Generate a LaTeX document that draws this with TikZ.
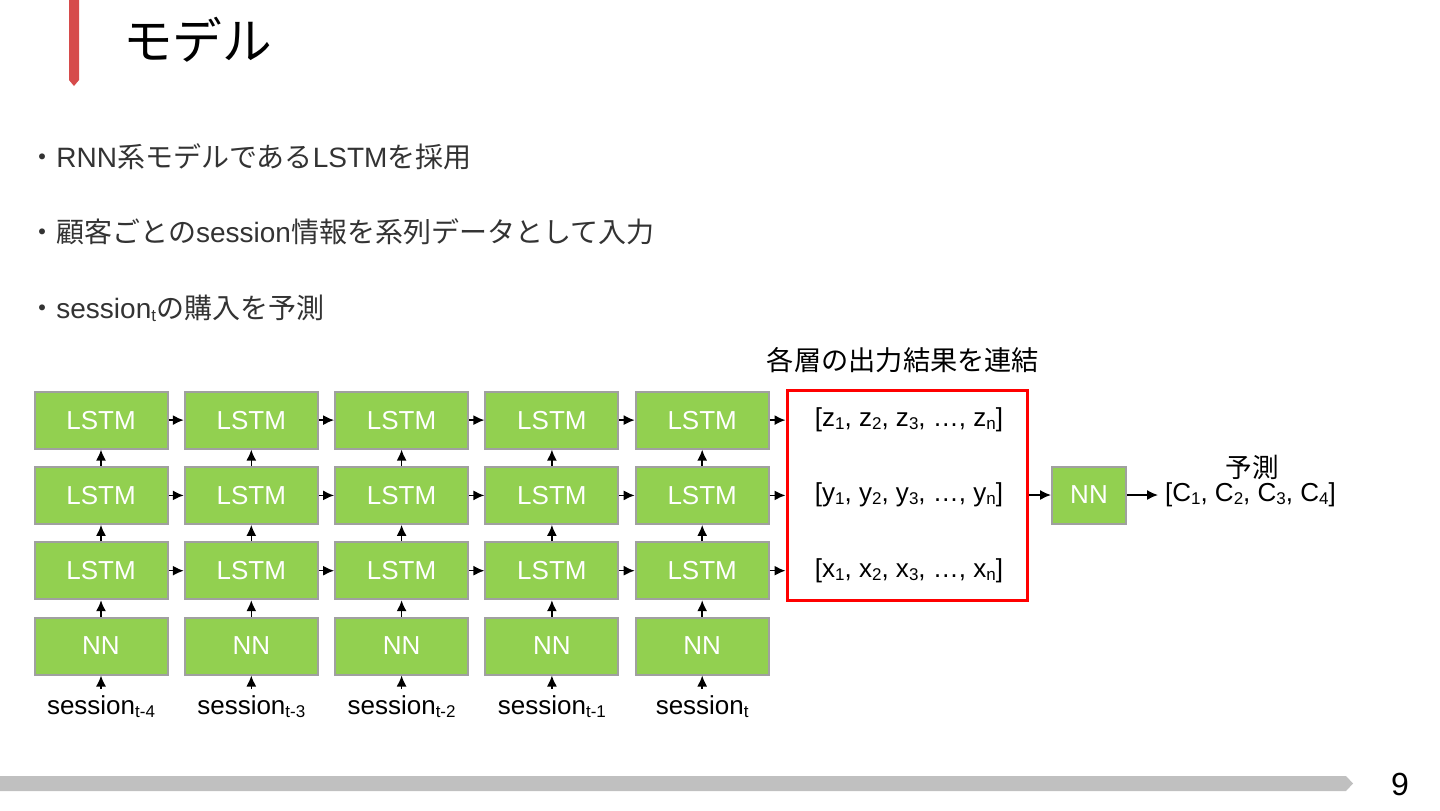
\documentclass[tikz,border=0pt]{standalone}
\usepackage{fontspec}
\setmainfont{Liberation Sans}
\newfontfamily\jp[Scale=1.08]{Noto Sans CJK JP}
\newfontfamily\jpb{Noto Sans CJK JP}
\usetikzlibrary{arrows.meta,positioning}
\definecolor{CellGreen}{HTML}{92D050}
\definecolor{CellEdge}{HTML}{A0A0A0}
\definecolor{BarRed}{HTML}{D64B4B}
\definecolor{BarGray}{HTML}{C0C0C0}
\definecolor{BodyGray}{HTML}{333333}
\newcommand{\lo}[1]{\raisebox{-0.2ex}{\fontsize{8.5}{9}\selectfont #1}}

\begin{document}
\begin{tikzpicture}[x=0.5pt,y=-0.5pt,
    cell/.style={draw=CellEdge,line width=1pt,fill=CellGreen,
      minimum width=66.5pt,minimum height=28.5pt,inner sep=0pt,
      text=white,font=\fontsize{13}{15}\selectfont},
    arrow/.style={-{Latex[length=5.5pt,width=5pt]},line width=0.75pt},
    vec/.style={font=\fontsize{13}{15}\selectfont},
    bullet/.style={anchor=west,inner sep=0pt,text=BodyGray,
      font=\fontsize{14}{16}\selectfont}
  ]
    \useasboundingbox (0,0) rectangle (1440,810);
    % header
    \fill[BarRed] (69,0) -- (79,0) -- (79,80) -- (74,86) -- (69,80) -- cycle;
    \node[anchor=west,font=\fontsize{23}{26}\selectfont] (title) at (116,40) {\jp モデル};
    \node[bullet] (b1) at (28,157) {{\jpb ・}RNN{\jpb 系モデルである}LSTM{\jpb を採用}};
    \node[bullet] (b2) at (28,232) {{\jpb ・顧客ごとの}session{\jpb 情報を系列データとして入力}};
    \node[bullet] (b3) at (28,308) {{\jpb ・}session\lo{t}{\jpb の購入を予測}};

    % LSTM grid
    \foreach \c/\t in {1/t-4,2/t-3,3/t-2,4/t-1,5/t} {
      \foreach \r in {1,2,3}
        \node[cell] (l\r-\c) at ({101+150.3*(\c-1)},{646-75.3*\r}) {LSTM};
      \node[cell] (l0-\c) at ({101+150.3*(\c-1)},646) {NN};
      \node[vec] (s-\c) at ({101+150.3*(\c-1)},707) {session\lo{\t}};
      \draw[arrow] (s-\c) -- (l0-\c);
      \foreach \r/\u in {0/1,1/2,2/3}
        \draw[arrow] (l\r-\c) -- (l\u-\c);
    }
    \foreach \r in {1,2,3}
      \foreach \c/\d in {1/2,2/3,3/4,4/5}
        \draw[arrow] (l\r-\c) -- (l\r-\d);

    % concatenation
    \node[font=\fontsize{12.6}{15}\selectfont] (head) at (903,360) {\jp 各層の出力結果を連結};
    \node[draw=red,line width=1.5pt,minimum width=120pt,minimum height=105pt] (cat) at (907,495) {};
    \node[vec] (zvec) at (909,420) {[z\lo{1}, z\lo{2}, z\lo{3}, \dots, z\lo{n}]};
    \node[vec] (yvec) at (909,495) {[y\lo{1}, y\lo{2}, y\lo{3}, \dots, y\lo{n}]};
    \node[vec] (xvec) at (909,571) {[x\lo{1}, x\lo{2}, x\lo{3}, \dots, x\lo{n}]};
    \foreach \r in {1,2,3}
      \draw[arrow] (l\r-5) -- (l\r-5 -| cat.west);

    % prediction
    \node[cell,minimum width=37pt] (nnout) at (1089,495) {NN};
    \node[vec,anchor=west] (pred) at (1158,495) {[C\lo{1}, C\lo{2}, C\lo{3}, C\lo{4}]};
    \node[font=\fontsize{12.3}{15}\selectfont] (predlab) at (1252,467) {\jp 予測};
    \draw[arrow] (cat.east) -- (nnout.west);
    \draw[arrow] (nnout) -- (pred);

    % footer
    \fill[BarGray] (0,776) -- (1346,776) -- (1353,783.5) -- (1346,791) -- (0,791) -- cycle;
    \node[font=\fontsize{16}{18}\selectfont] (page) at (1400,784) {9};
  \end{tikzpicture}
\end{document}
